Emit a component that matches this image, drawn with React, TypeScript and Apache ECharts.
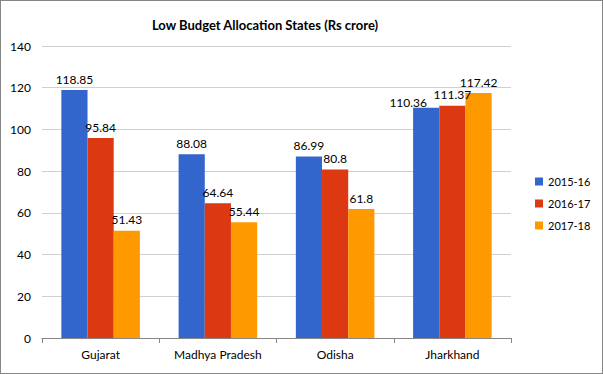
import React, { useEffect, useRef } from "react";
import * as echarts from "echarts";

const categories = ["Gujarat", "Madhya Pradesh", "Odisha", "Jharkhand"];
const seriesNames = ["2015-16", "2016-17", "2017-18"];
const values2015 = [118.85, 88.08, 86.99, 110.36];
const values2016 = [95.84, 64.64, 80.8, 111.37];
const values2017 = [51.43, 55.44, 61.8, 117.42];
const colors = ["#3366CC", "#DC3912", "#FF9900"];

const FONT = "Lato, 'Open Sans', sans-serif";

export default function App() {
  const ref = useRef<HTMLDivElement>(null);
  useEffect(() => {
    if (!ref.current) return;
    const chart = echarts.init(ref.current, null, { renderer: "svg" });
    const data = [values2015, values2016, values2017];
    chart.setOption({
      animation: false,
      textStyle: { fontFamily: FONT },
      title: {
        text: "Low Budget Allocation States (Rs crore)",
        left: 259,
        textAlign: "center",
        top: 12,
        textStyle: { fontSize: 13, fontWeight: "bold", color: "#000", fontFamily: FONT },
      },
      legend: {
        orient: "vertical",
        left: 529,
        top: 170,
        itemWidth: 8,
        itemHeight: 8,
        itemGap: 11,
        icon: "rect",
        textStyle: { fontSize: 11, color: "#000", fontFamily: FONT },
        data: seriesNames,
      },
      grid: { left: 41, right: 91, top: 45, bottom: 35, containLabel: false },
      xAxis: {
        type: "category",
        data: categories,
        axisLine: { lineStyle: { color: "#868686" } },
        axisTick: { show: true, alignWithLabel: false, length: 5, lineStyle: { color: "#868686" } },
        axisLabel: { fontSize: 12, color: "#000", margin: 10, fontFamily: FONT },
      },
      yAxis: {
        type: "value",
        min: 0,
        max: 140,
        interval: 20,
        axisLine: { show: false },
        axisTick: { show: false },
        axisLabel: { fontSize: 12, color: "#000", margin: 11, fontFamily: FONT },
        splitLine: { lineStyle: { color: "#D0D0D0" } },
      },
      series: seriesNames.map((name, i) => ({
        name,
        type: "bar",
        data: data[i].map((v, j) =>
          i === 0 && j === 3
            ? { value: v, label: { offset: [-18, 6] } }
            : v
        ),
        barGap: "0%",
        barCategoryGap: "33%",
        itemStyle: { color: colors[i] },
        label: {
          show: true,
          position: "top",
          distance: 5,
          fontSize: 12,
          color: "#000",
          fontFamily: FONT,
        },
      })),
    });
    return () => chart.dispose();
  }, []);
  return (
    <div
      style={{
        position: "fixed",
        left: 0,
        top: 0,
        width: 603,
        height: 374,
        background: "#fff",
        boxSizing: "border-box",
        border: "1px solid #868686",
      }}
    >
      <div ref={ref} style={{ width: 601, height: 372 }} />
    </div>
  );
}
